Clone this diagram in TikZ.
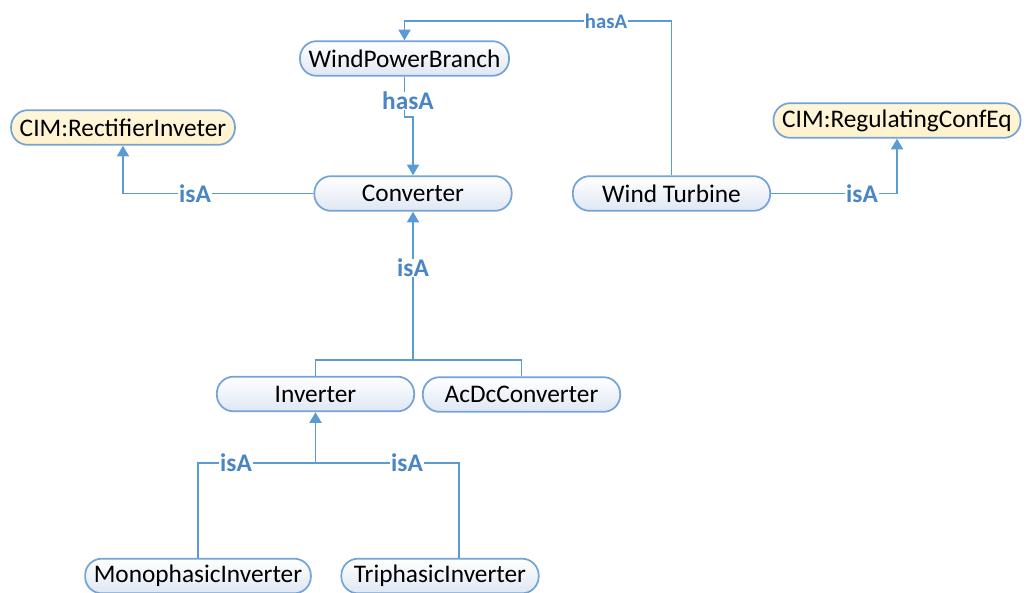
\documentclass[tikz,border=0pt]{standalone}
\usepackage{fontspec}
\setmainfont{Carlito}
\usetikzlibrary{arrows.meta}
\definecolor{linkblue}{HTML}{5B9BD5}
\definecolor{lblblue}{HTML}{4A86C5}
\definecolor{edgeblue}{HTML}{74A3D6}
\definecolor{cimyellow}{HTML}{FFF2CC}
\definecolor{shadeblue}{HTML}{DFE7F4}

\begin{document}
\begin{tikzpicture}[x=0.75pt,y=-0.75pt]
\tikzset{Class/.style={draw=edgeblue, line width=1.3pt, rounded corners=12.5pt,
  top color=white, bottom color=shadeblue, minimum width=148pt,
  minimum height=26pt, inner xsep=6.5pt, font=\fontsize{19}{22}\selectfont}}
\tikzset{CimClass/.style={Class, top color=cimyellow!70, bottom color=cimyellow}}
\tikzset{link/.style={draw=linkblue, line width=1.4pt}}
\tikzset{arr/.style={link, -{Triangle[width=9pt,length=8pt]}}}
\tikzset{lbl/.style={fill=white, inner xsep=1pt, inner ysep=0pt, text=lblblue,
  font=\bfseries\fontsize{19}{22}\selectfont}}
\tikzset{smalllbl/.style={lbl, font=\bfseries\fontsize{15.5}{18}\selectfont}}
\useasboundingbox (0,0) rectangle (1027,592);
% classes
\node[Class] (wpb) at (404.5,58.5) {WindPowerBranch};
\node[CimClass] (rect) at (123,127.5) {CIM:RectifierInveter};
\node[Class] (conv) at (413,193.5) {Converter};
\node[Class] (wt) at (671.5,193.5) {Wind Turbine};
\node[CimClass] (reg) at (897,120.5) {CIM:RegulatingConfEq};
\node[Class] (inv) at (315.5,394) {Inverter};
\node[Class] (acdc) at (521.5,394.5) {AcDcConverter};
\node[Class] (mono) at (198,576) {MonophasicInverter};
\node[Class] (tri) at (440,576) {TriphasicInverter};
% hasA links
\coordinate (top) at (404.5,21);
\draw[arr] (wt.north) |- (top) -- (wpb.north);
\node[smalllbl] (l1) at (606,21) {hasA};
\coordinate (jog) at (413,117);
\draw[arr] (wpb.south) -- (wpb.south |- jog) -- (jog) -- (conv.north);
\node[lbl] (l2) at (408,101) {hasA};
% isA links
\draw[arr] (conv.west) -| (rect.south);
\node[lbl] (l3) at (195,194) {isA};
\draw[arr] (wt.east) -| (reg.south);
\node[lbl] (l4) at (862,194) {isA};
\coordinate (j1) at (413,360);
\draw[link] (inv.north) |- (acdc.north |- j1) -- (acdc.north);
\draw[arr] (j1) -- (conv.south);
\node[lbl] (l5) at (413,268) {isA};
\coordinate (j2) at (315.5,463);
\coordinate (tj) at (459,463);
\draw[link] (mono.north) |- (tj) -- (tj |- tri.north);
\draw[arr] (j2) -- (inv.south);
\node[lbl] (l6) at (236,463) {isA};
\node[lbl] (l7) at (407,463) {isA};
\end{tikzpicture}
\end{document}
